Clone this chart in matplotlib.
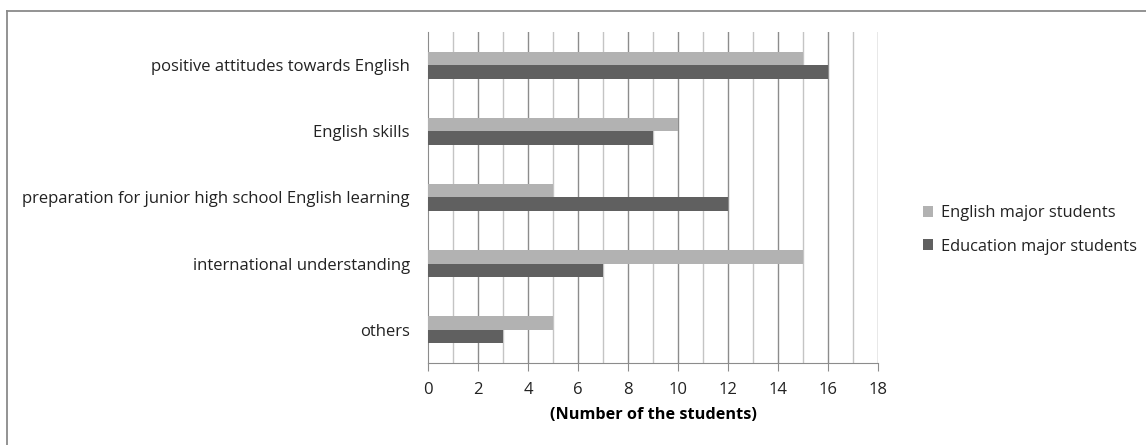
import matplotlib
matplotlib.use("Agg")
import matplotlib.pyplot as plt
from matplotlib.lines import Line2D
import numpy as np

categories = [
    "positive attitudes towards English",
    "English skills",
    "preparation for junior high school English learning",
    "international understanding",
    "others",
]
english_major = [15, 10, 5, 15, 5]
education_major = [16, 9, 12, 7, 3]
series_names = ["English major students", "Education major students"]
x_ticks = list(range(0, 19, 2))

plt.rcParams["font.family"] = ["Open Sans", "DejaVu Sans"]

W, H = 1146, 445
fig = plt.figure(figsize=(W / 100, H / 100), dpi=100)

# chart frame: top and left edges only
frame_kw = dict(transform=fig.transFigure, color="#8a8a8a", linewidth=1.3)
fig.lines.append(Line2D([7 / W, 1.0], [1 - 11 / H, 1 - 11 / H], **frame_kw))
fig.lines.append(Line2D([7 / W, 7 / W], [0, 1 - 11 / H], **frame_kw))

ax = fig.add_axes([428 / W, 1 - 363 / H, 450 / W, (363 - 32) / H])

light = "#b2b2b2"
dark = "#606060"
n = len(categories)
y = np.arange(n)
h = 0.205
ax.barh(y - h / 2, english_major, height=h, color=light, label=series_names[0], zorder=3)
ax.barh(y + h / 2, education_major, height=h, color=dark, label=series_names[1], zorder=3)

ax.set_xlim(0, 18)
ax.set_ylim(n - 0.5, -0.5)
ax.set_yticks(y)
ax.set_yticklabels(categories, fontsize=12, color="#222222")
ax.set_xticks(x_ticks)
ax.set_xticklabels([str(t) for t in x_ticks], fontsize=12, color="#222222")
ax.set_xticks(range(1, 18, 2), minor=True)

for v in range(1, 19):
    ax.axvline(v, color="#8c8c8c" if v % 2 == 0 else "#c4c4c4", linewidth=1, zorder=1)

for s in ["top", "right"]:
    ax.spines[s].set_visible(False)
ax.spines["left"].set_color("#8c8c8c")
ax.spines["bottom"].set_color("#8c8c8c")
ax.tick_params(axis="y", length=0, pad=13)
ax.tick_params(axis="x", which="major", length=6, color="#8c8c8c", pad=8)
ax.tick_params(axis="x", which="minor", length=0)

ax.set_xlabel("(Number of the students)", fontsize=11.7, fontweight="bold", labelpad=6)

fig.legend(loc="center left", bbox_to_anchor=(908 / W, 1 - 230 / H), frameon=False,
           fontsize=11.8, handlelength=0.65, handleheight=0.65, handletextpad=0.45,
           labelspacing=1.05, labelcolor="#222222")

fig.savefig("out.png", dpi=100, facecolor="white")
